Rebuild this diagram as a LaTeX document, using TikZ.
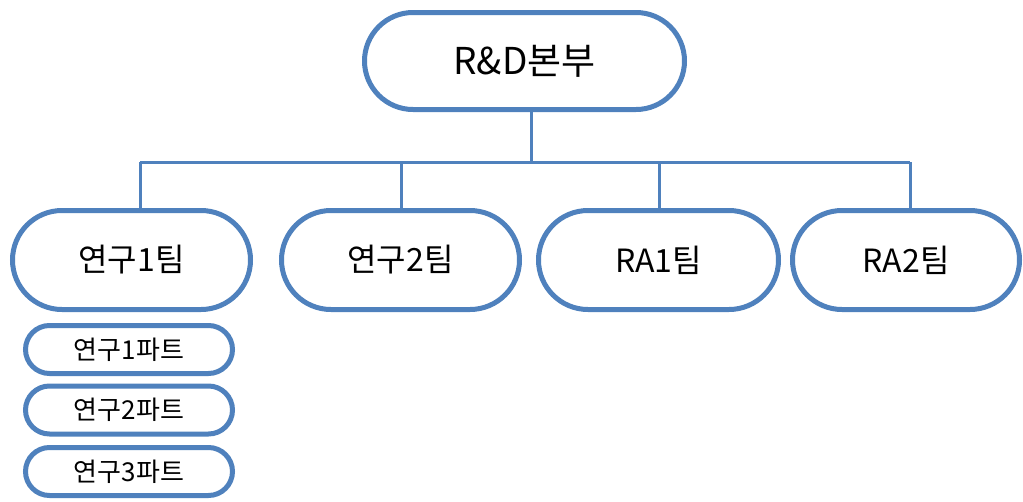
\documentclass[tikz,border=0pt]{standalone}
\usepackage{fontspec}
\newfontfamily\krfont{Noto Sans CJK KR}
\usetikzlibrary{shapes.misc}
\definecolor{obrd}{RGB}{79,129,189}
\tikzset{
  pill/.style={rounded rectangle, draw=obrd, line width=5pt, fill=white, inner sep=0pt, font=\krfont},
  topbox/.style={pill, minimum width=320pt, minimum height=97pt, font=\krfont\fontsize{37}{40}\selectfont},
  teambox/.style={pill, minimum height=99pt, font=\krfont\fontsize{32}{36}\selectfont},
  partbox/.style={pill, minimum width=207pt, minimum height=48pt, font=\krfont\fontsize{26}{28}\selectfont},
  conn/.style={draw=obrd, line width=3pt}
}
\begin{document}
\begin{tikzpicture}[x=1pt,y=-1pt]
\useasboundingbox (0,0) rectangle (1023,501);
\node[topbox] (top) at (524.5,61) {R\&D본부};
\node[teambox, minimum width=238pt] (t1) at (131.5,260) {연구1팀};
\node[teambox, minimum width=238pt] (t2) at (400.5,260) {연구2팀};
\node[teambox, minimum width=240pt] (t3) at (658.5,260) {RA1팀};
\node[teambox, minimum width=227pt] (t4) at (906,260) {RA2팀};
\node[partbox] (p1) at (129,349.5) {연구1파트};
\node[partbox] (p2) at (129,410) {연구2파트};
\node[partbox] (p3) at (129,471.5) {연구3파트};
\coordinate (bus) at (531,162);
\draw[conn] (top.south -| bus) -- (bus);
\draw[conn] ([xshift=8.5pt]t1.north |- bus) -- ([xshift=4pt]t4.north |- bus);
\draw[conn] ([xshift=8.5pt]t1.north) -- ([xshift=8.5pt]t1.north |- bus);
\draw[conn] ([xshift=0.5pt]t2.north) -- ([xshift=0.5pt]t2.north |- bus);
\draw[conn] ([xshift=0.5pt]t3.north) -- ([xshift=0.5pt]t3.north |- bus);
\draw[conn] ([xshift=4pt]t4.north) -- ([xshift=4pt]t4.north |- bus);
\end{tikzpicture}
\end{document}
